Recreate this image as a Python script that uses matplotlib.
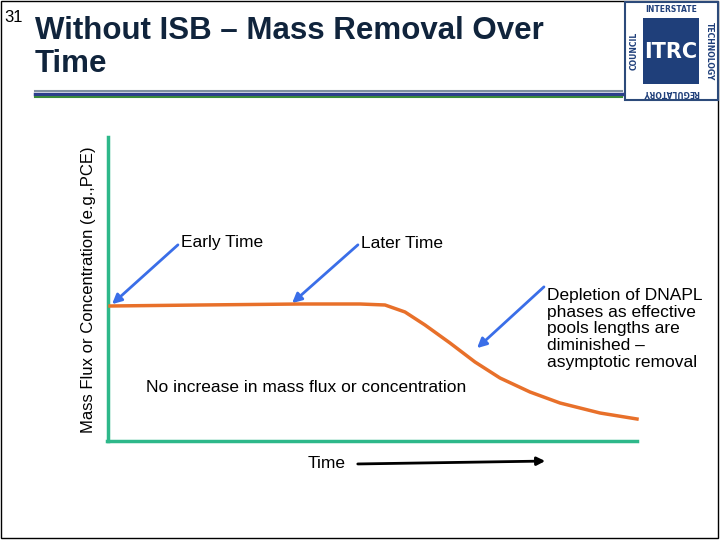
import matplotlib
matplotlib.use("Agg")
import matplotlib.pyplot as plt
from matplotlib.patches import Rectangle, FancyArrowPatch

curve_x = [110, 200, 300, 360, 385, 405, 425, 450, 475, 500, 530, 560, 600, 637]
curve_y = [306, 305, 304, 304, 305, 312, 325, 343, 362, 378, 392, 403, 413, 419]
arrows = [((180, 243), (110, 306)), ((360, 243), (290, 305)), ((546, 285), (475, 350))]

fig = plt.figure(figsize=(7.2, 5.4), dpi=100)
ax = fig.add_axes([0, 0, 1, 1])
ax.set_xlim(0, 720); ax.set_ylim(540, 0); ax.axis('off')
ax.add_patch(Rectangle((1, 1), 717, 537, fill=False, ec='black', lw=1))
ax.text(4, 18, "31", fontsize=12, va='center', family='Liberation Sans')
ax.text(35, 31, "Without ISB – Mass Removal Over", fontsize=22.5, fontweight='bold', va='center', color='#10243c', family='Liberation Sans')
ax.text(35, 64, "Time", fontsize=22.5, fontweight='bold', va='center', color='#10243c', family='Liberation Sans')
ax.plot([35, 622], [91, 91], color='#8090a0', lw=1.5)
ax.plot([35, 622], [94, 94], color='#2c3e8c', lw=2.5)
ax.plot([35, 622], [97, 97], color='#3a8a3a', lw=1.5)
# logo
ax.add_patch(Rectangle((625, 2), 93, 98, fc='white', ec='#2c4a7a', lw=1.5))
ax.add_patch(Rectangle((643, 18), 56, 66, fc='#1f3f7a'))
ax.text(671, 52, "ITRC", color='white', fontsize=15, fontweight='bold', ha='center', va='center', family='Liberation Sans Narrow')
ax.text(671, 10, "INTERSTATE", fontsize=5.5, fontweight='bold', ha='center', va='center', color='#1f3f7a')
ax.text(671, 92, "REGULATORY", fontsize=5.5, fontweight='bold', ha='center', va='center', color='#1f3f7a', rotation=180)
ax.text(634, 51, "COUNCIL", fontsize=5.5, fontweight='bold', ha='center', va='center', color='#1f3f7a', rotation=90)
ax.text(709, 51, "TECHNOLOGY", fontsize=5.5, fontweight='bold', ha='center', va='center', color='#1f3f7a', rotation=-90)
# axes
ax.plot([108, 108], [137, 441], color='#2eb88a', lw=2.5)
ax.plot([107, 637], [441, 441], color='#2eb88a', lw=2.5)
ax.plot(curve_x, curve_y, color='#e8702a', lw=2.5)
ax.text(89, 290, "Mass Flux or Concentration (e.g.,PCE)", rotation=90, fontsize=12, ha='center', va='center', family='Liberation Sans')
ax.text(181, 243, "Early Time", fontsize=12.5, va='center', family='Liberation Sans')
ax.text(361, 243, "Later Time", fontsize=12.5, va='center', family='Liberation Sans')
ax.text(146, 387, "No increase in mass flux or concentration", fontsize=12.5, va='center', family='Liberation Sans')
ax.text(547, 329, "Depletion of DNAPL\nphases as effective\npools lengths are\ndiminished –\nasymptotic removal", fontsize=12.5, va='center', linespacing=1.15, family='Liberation Sans')
ax.text(308, 464, "Time", fontsize=12.5, va='center', family='Liberation Sans')
ax.add_patch(FancyArrowPatch((355, 464), (548, 461), arrowstyle='-|>', mutation_scale=12, color='black', lw=2))
for (s, e) in arrows:
    ax.add_patch(FancyArrowPatch(s, e, arrowstyle='-|>', mutation_scale=14, color='#3a6ee8', lw=2))
fig.savefig("out.png", dpi=100)
